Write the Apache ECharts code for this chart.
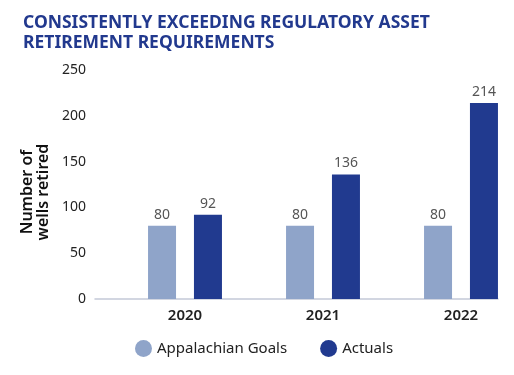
<!DOCTYPE html>
<html>
<head>
<meta charset="utf-8">
<script src="https://cdn.jsdelivr.net/npm/echarts@6/dist/echarts.min.js"></script>
<style>html,body{margin:0;padding:0;background:#fff}#c{width:514px;height:375px}</style>
</head>
<body>
<div id="c"></div>
<script>
const categories = ['2020', '2021', '2022'];
const goals = [80, 80, 80];
const actuals = [92, 136, 214];
const yTicks = [0, 50, 100, 150, 200, 250];

const FONT = '"Noto Sans", sans-serif';
const chart = echarts.init(document.getElementById('c'));
chart.setOption({
  animation: false,
  title: {
    text: 'CONSISTENTLY EXCEEDING REGULATORY ASSET\nRETIREMENT REQUIREMENTS',
    left: 18, top: 8,
    textStyle: { fontFamily: FONT, fontWeight: 'bold', fontSize: 17.5, color: '#22398e', lineHeight: 20 }
  },
  legend: {
    left: 130, top: 335,
    icon: 'circle', itemWidth: 17, itemHeight: 17, itemGap: 33,
    textStyle: { fontFamily: FONT, fontSize: 15, color: '#222' },
    data: ['Appalachian Goals', 'Actuals']
  },
  grid: [
    { left: 116, width: 414, top: 70, bottom: 76, outerBoundsMode: 'none' },
    { left: 95, right: 16, top: 70, bottom: 76, outerBoundsMode: 'none' }
  ],
  xAxis: [
    {
      type: 'category', data: categories, gridIndex: 0,
      axisLine: { show: false }, axisTick: { show: false },
      axisLabel: { fontFamily: FONT, fontSize: 15, fontWeight: 600, color: '#222', margin: 9 }
    },
    {
      type: 'value', gridIndex: 1, min: 0, max: 1,
      axisLine: { show: true, lineStyle: { color: '#c3c9d8', width: 1.5 } },
      axisTick: { show: false }, axisLabel: { show: false }, splitLine: { show: false }
    }
  ],
  yAxis: [
    {
      type: 'value', gridIndex: 0, min: yTicks[0], max: yTicks[yTicks.length - 1], interval: 50,
      offset: 21,
      name: 'Number of\nwells retired', nameLocation: 'middle', nameGap: 38, nameRotate: 90,
      nameTextStyle: { fontFamily: FONT, fontSize: 16, fontWeight: 600, color: '#111', lineHeight: 16, padding: [0, 0, 0, -15] },
      axisLine: { show: false }, axisTick: { show: false }, splitLine: { show: false },
      axisLabel: { fontFamily: FONT, fontSize: 14, color: '#222', margin: 9 }
    },
    { type: 'value', gridIndex: 1, show: false, min: 0, max: 1 }
  ],
  series: [
    {
      name: 'Appalachian Goals', type: 'bar', data: goals, barWidth: 28, barGap: '64%',
      itemStyle: { color: '#8fa4c9' },
      label: { show: true, position: 'top', distance: 4, fontFamily: FONT, fontSize: 14, color: '#555' }
    },
    {
      name: 'Actuals', type: 'bar', data: actuals, barWidth: 28, barGap: '64%',
      itemStyle: { color: '#213a8f' },
      label: { show: true, position: 'top', distance: 4, fontFamily: FONT, fontSize: 14, color: '#555' }
    }
  ]
});
</script>
</body>
</html>
